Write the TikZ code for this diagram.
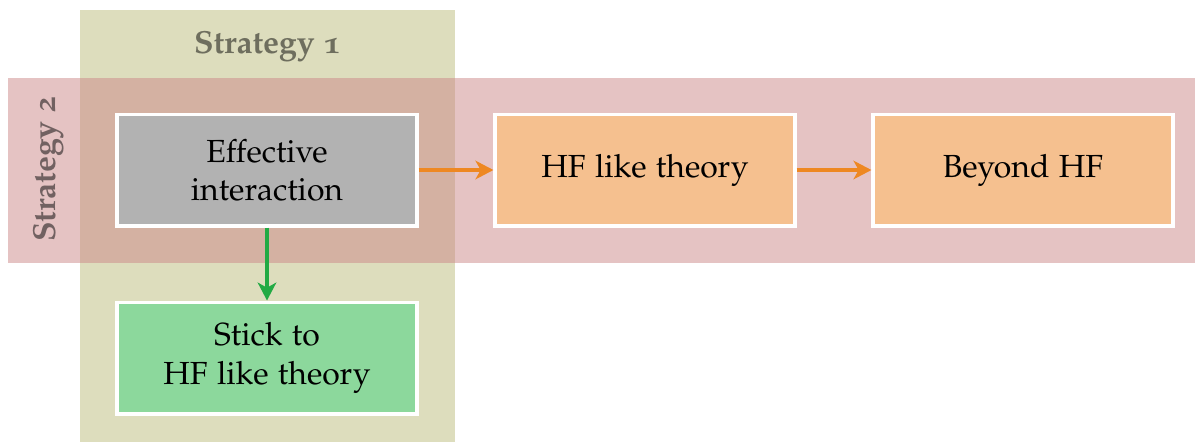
\documentclass[tikz,border=0pt]{standalone}
\usepackage[T1]{fontenc}
\usepackage[osf]{mathpazo}
\usetikzlibrary{arrows.meta}

\definecolor{bandone}{RGB}{128,128,10}
\definecolor{bandtwo}{RGB}{203,135,135}
\definecolor{grayfill}{RGB}{178,178,178}
\definecolor{orangefill}{RGB}{245,192,143}
\definecolor{greenfill}{RGB}{140,216,156}
\definecolor{orangearrow}{RGB}{238,136,34}
\definecolor{greenarrow}{RGB}{34,170,68}

\tikzset{
    box/.style={draw=white, line width=1pt, minimum width=3.3cm, minimum height=1.23cm, align=center, inner sep=0pt},
    flow/.style={-{Stealth[length=5.6pt, width=5.8pt, inset=1.6pt]}, line width=1.4pt},
    bandlabel/.style={font=\bfseries, text=black, text opacity=0.5}
}

\begin{document}
\begin{tikzpicture}[x=0.011cm, y=-0.011cm]
            \useasboundingbox (0, 0) rectangle (1195, 442);

            % the two bands
            \fill[bandone, fill opacity=0.27] (80, 10) rectangle (455, 442);
            \fill[bandtwo, fill opacity=0.5] (8, 78) rectangle (1195, 263);
            \node[bandlabel] (sone) at (267, 46) {Strategy 1};
            \node[bandlabel, rotate=90] (stwo) at (48, 169) {Strategy 2};

            \node[box, fill=grayfill] (eff) at (267, 170) {Effective\\interaction};
            \node[box, fill=orangefill] (hf) at (645, 170) {HF like theory};
            \node[box, fill=orangefill] (beyond) at (1023, 170) {Beyond HF};
            \node[box, fill=greenfill] (stick) at (267, 358) {Stick to\\HF like theory};

            \draw[flow, orangearrow] (eff) -- (hf);
            \draw[flow, orangearrow] (hf) -- (beyond);
            \draw[flow, greenarrow] (eff) -- (stick);
        \end{tikzpicture}
\end{document}
